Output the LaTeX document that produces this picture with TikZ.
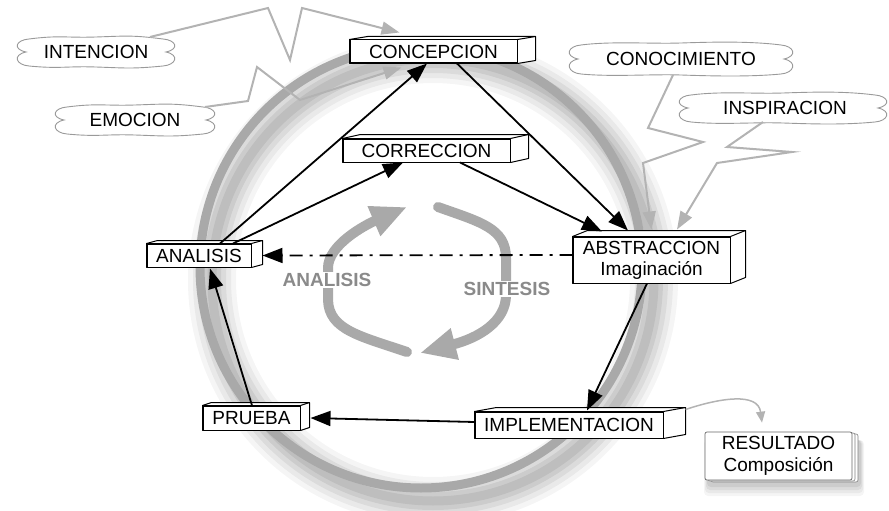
\documentclass[tikz,border=0pt]{standalone}
\usepackage{fontspec}
\setmainfont{Liberation Sans}
\usetikzlibrary{arrows.meta}
\definecolor{ringgray}{HTML}{A9A9A9}
\definecolor{ltgray}{HTML}{B3B3B3}
\definecolor{cloudgray}{HTML}{9A9A9A}
\definecolor{txtgray}{HTML}{8A8A8A}

\newcommand\threedbox[3]{%
  \fill[white] (#1.north west) -- ++(#2,#3) -- ([shift={(#2,#3)}]#1.north east) -- (#1.north east) -- cycle;
  \fill[white] (#1.north east) -- ([shift={(#2,#3)}]#1.north east) -- ([shift={(#2,#3)}]#1.south east) -- (#1.south east) -- cycle;
  \draw[boxline] (#1.north west) -- ++(#2,#3) -- ([shift={(#2,#3)}]#1.north east) -- ([shift={(#2,#3)}]#1.south east) -- (#1.south east);
  \draw[boxline] (#1.north east) -- ++(#2,#3);
  \draw[boxline] (#1.north west) rectangle (#1.south east);
}

\tikzset{
  pics/cloudy/.style 2 args={code={
    \draw[cloudline] ({-#1+14},{-#2+2})
      .. controls ({-#1+45},{-#2-2}) and (-30,{-#2+1}) .. (0,-#2)
      .. controls (30,{-#2-1}) and ({#1-45},{-#2-2}) .. ({#1-14},{-#2+2})
      .. controls ({#1-1},{-#2+3}) and ({#1+3},-3) .. ({#1-11},0)
      .. controls ({#1+3},3) and ({#1-1},{#2-2}) .. ({#1-14},{#2-1})
      .. controls ({#1-45},{#2+2}) and (30,{#2+1}) .. (0,#2)
      .. controls (-30,{#2-1}) and ({-#1+45},{#2+2}) .. ({-#1+14},{#2-1})
      .. controls ({-#1+1},{#2-2}) and ({-#1-3},3) .. ({-#1+11},0)
      .. controls ({-#1-3},-3) and ({-#1+1},{-#2+3}) .. ({-#1+14},{-#2+2}) -- cycle;
  }}
}

\begin{document}
\begin{tikzpicture}[x=1pt,y=-1pt,
  boxline/.style={line width=1pt, black, line join=round},
  bx/.style={draw=black, line width=1pt, fill=white, inner sep=0pt,
    font=\fontsize{19}{21}\selectfont, align=center},
  arr/.style={line width=1.8pt, -{Triangle[length=20pt,width=15pt]}},
  bolt/.style={ltgray, line width=2pt, line join=miter, -{Triangle[length=18pt,width=13pt]}},
  cyc/.style={ringgray, line width=10pt, line cap=round},
  cloudline/.style={cloudgray, line width=0.9pt, fill=white},
  cloudtxt/.style={font=\fontsize{19}{21}\selectfont, inner sep=0pt},
  gtxt/.style={txtgray, font=\bfseries\fontsize{19}{21}\selectfont, fill=white, inner sep=1pt}
]
\useasboundingbox (0,0) rectangle (889,511);

% ring shadow
\foreach \w/\o in {48/0.04,38/0.05,28/0.06,18/0.07,9/0.07}
  \draw[black,opacity=\o,line width=\w pt] (433,280) circle[radius=221pt];
% ring
\draw[ringgray, line width=9pt] (421,267) circle[radius=221pt];

% clouds
\pic at (96,52) {cloudy={81}{15}};
\node[cloudtxt] (intc) at (96,52) {INTENCION};
\pic at (135,120) {cloudy={82}{15}};
\node[cloudtxt] (emoc) at (135,120) {EMOCION};
\pic at (681,59) {cloudy={114}{16}};
\node[cloudtxt] (cono) at (681,59) {CONOCIMIENTO};
\pic at (783,108) {cloudy={106}{15}};
\node[cloudtxt] (insp) at (785,108) {INSPIRACION};

% boxes
\node[bx, minimum width=167pt, minimum height=23pt] (conc) at (433.5,51.5) {CONCEPCION};
\threedbox{conc}{18}{-3}
\node[bx, minimum width=167pt, minimum height=23pt] (corr) at (426.5,150.5) {CORRECCION};
\threedbox{corr}{18}{-4}
\node[bx, minimum width=104pt, minimum height=23pt] (ana) at (199,255.5) {ANALISIS};
\threedbox{ana}{11}{-3}
\node[bx, minimum width=157pt, minimum height=46pt] (abst) at (651.5,260) {ABSTRACCION\\Imaginación};
\threedbox{abst}{15}{-6}
\node[bx, minimum width=97pt, minimum height=24pt] (prue) at (251.5,418) {PRUEBA};
\threedbox{prue}{9}{-3}
\node[bx, minimum width=188pt, minimum height=26pt] (impl) at (569,425) {IMPLEMENTACION};
\threedbox{impl}{22}{-4}

% result stack
\foreach \s/\o in {12/0.04,9/0.05,6/0.06,3/0.07}
  \fill[black,opacity=\o,rounded corners=4pt] (708-\s/3,440) rectangle (860+\s/3,484+\s);
\draw[gray, fill=white, line width=0.6pt, rounded corners=2pt] (711,434) rectangle (858,482);
\draw[gray, fill=white, line width=0.6pt, rounded corners=2pt] (708,433) rectangle (855,481);
\node[draw=gray!80!black, line width=0.7pt, fill=white, rounded corners=2pt,
  minimum width=147pt, minimum height=48pt, inner sep=0pt, align=center,
  font=\fontsize{19}{22}\selectfont] (res) at (778.5,456) {RESULTADO\\Composición};

% lightning connectors
\draw[bolt] ([shift={(54,-15)}]intc.center) -- (268,8) -- (290,60) -- (302,8) -- ([shift={(50,-7)}]conc.north west);
\draw[bolt] ([shift={(70,-13)}]emoc.center) -- (248,101) -- (257,67) -- (300,100) -- ([shift={(52,4)}]conc.south west);
\draw[bolt] ([shift={(-8,16)}]cono.center) -- (648,128) -- (703,142) -- (643,163) -- ([yshift=7pt]abst.north);
\draw[bolt] ([shift={(-22,14)}]insp.center) -- (727,147) -- (792,152) -- (717,163) -- ([shift={(25.5,-7)}]abst.north);

% result connector
\draw[ltgray, line width=1.5pt, -{Triangle[length=11pt,width=9pt]}]
  ([shift={(22,-2)}]impl.north east) .. controls (720,398) and (758,392) .. ([shift={(-16.5,-9)}]res.north);

% central cycle
\draw[cyc, -{Triangle[length=36pt,width=30pt]}]
  (407,352) .. controls (360,336) and (329,330) .. (328,300) -- (328,268)
  .. controls (328,245) and (365,225) .. (407,207);
\draw[cyc, -{Triangle[length=36pt,width=30pt]}]
  (438,207) .. controls (480,222) and (506,228) .. (506,258) -- (506,295)
  .. controls (506,322) and (478,338) .. (420,353);
\node[gtxt] (tana) at (327,280) {ANALISIS};
\node[gtxt] (tsin) at (507,289) {SINTESIS};

% black connectors
\draw[arr] ([xshift=21pt]ana.north) -- ([xshift=-6.5pt]conc.south);
\draw[arr] ([xshift=34pt]ana.north) -- ([xshift=-23.5pt]corr.south);
\draw[arr] ([xshift=23.5pt]conc.south) -- ([xshift=-23.5pt,yshift=6pt]abst.north);
\draw[arr] ([xshift=33.5pt]corr.south) -- ([xshift=-49.5pt,yshift=5pt]abst.north);
\draw[arr] ([xshift=-4.5pt]abst.south) -- ([xshift=18pt,yshift=1pt]impl.north);
\draw[arr] ([yshift=3pt]impl.west) -- ([xshift=10pt]prue.east);
\draw[arr] ([xshift=0.5pt]prue.north) -- ([xshift=11pt,yshift=-1pt]ana.south);
\draw[line width=1.8pt, dash pattern=on 13pt off 7pt on 3pt off 7pt, -{Triangle[length=20pt,width=15pt]}]
  ([yshift=5pt]abst.west) -- ([xshift=11pt]ana.east);
\end{tikzpicture}
\end{document}
